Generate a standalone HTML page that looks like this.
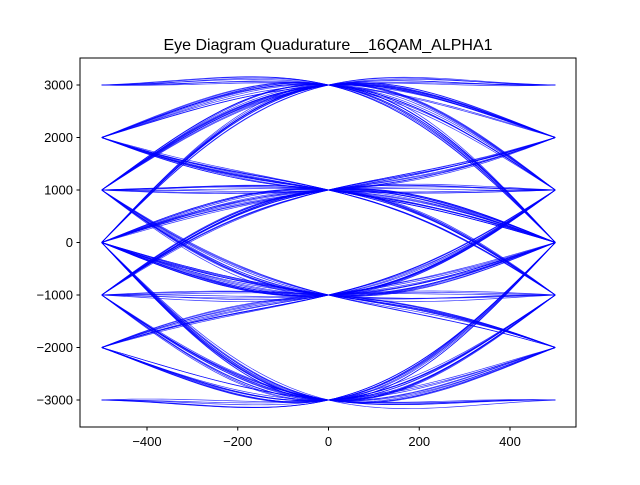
<!DOCTYPE html>
<html><head><meta charset="utf-8"><style>
body{margin:0;background:#fff;font-family:"Liberation Sans","DejaVu Sans",sans-serif;}
svg text{font-family:"Liberation Sans","DejaVu Sans",sans-serif;}
</style></head><body>
<svg id="chart" width="640" height="480" viewBox="0 0 640 480">
<rect width="640" height="480" fill="#fff"/>
<text x="328" y="50" text-anchor="middle" font-size="16">Eye Diagram Quadurature__16QAM_ALPHA1</text>
<g id="traces"></g>
<rect x="80" y="58" width="496" height="369" fill="none" stroke="#000" stroke-width="1"/>
<g id="xticks"></g>
<g id="yticks"></g>
</svg>
<script>
const symbols=[3,3,1,-1,-3,-3,1,3,-1,1,1,-3,3,-1,-1,3,1,-3,-1,3,3,-3,-3,-1,1,-1,3,-3,1,1,3,-1,-3,3,1,-1,1,3,3,1,-3,1,-1,-1,-3,-1,3,-3,-1,1,3,1,1,-1,3,3,-1,-3,-3,3,-1,1,-3,-3,1,-1,3,-1,1,3,-3,-1,-1,1,-3,3,1,1,-1,-3,3,3,-3,1,-1,-3,1,-1,3,1,
-1,3,-3,3,1,-3,-1,-1,3,1,1,3,-3,-1,1,-1,-3,3,3,-1,1,-3,1,3,-1,-3,-3,-1,3,1,-1,1,-3,1,3,3,-3,-1,-1,-3,1,-1,3,-3,1,1,-1,3,1,-3,-3,3,-1,1,1,3,-1,-1,-3,3,-3,1,-1,1,3,-3,3,1,-1,-3,1,1,-3,-1,3,3,1,-1,-1,1,-3,-3,3,-1,3,1,-1,-3,1,3,-3,1,-1,3,-1,-3,1,3];
const symbolScale=1000;
const xTicks=[-400,-200,0,200,400];
const yTicks=[-3000,-2000,-1000,0,1000,2000,3000];
const beta=1;
const X=v=>328.5+v*0.45375;
const Y=v=>242.5-v*0.0525;
function p(t){
  if(Math.abs(t)<1e-9)return 1;
  const den=1-4*beta*beta*t*t;
  const sinc=Math.sin(Math.PI*t)/(Math.PI*t);
  if(Math.abs(den)<1e-9)return Math.PI/4*sinc;
  return sinc*Math.cos(Math.PI*beta*t)/den;
}
const ns="http://www.w3.org/2000/svg";
const g=document.getElementById('traces');
for(let k=6;k<symbols.length-6;k++){
  let pts=[];
  for(let i=0;i<=60;i++){
    const tau=-0.5+i/60;
    let s=0;
    for(let j=k-6;j<=k+6;j++)s+=symbols[j]*p(k+tau-j);
    pts.push(X(tau*1000).toFixed(2)+","+Y(s*symbolScale).toFixed(2));
  }
  const pl=document.createElementNS(ns,'polyline');
  pl.setAttribute('points',pts.join(' '));
  pl.setAttribute('fill','none');pl.setAttribute('stroke','#0000ff');
  pl.setAttribute('stroke-width','0.7');pl.setAttribute('stroke-opacity','0.8');
  
  
  g.appendChild(pl);
}
const xg=document.getElementById('xticks');
xTicks.forEach(v=>{
  const x=X(v);
  const l=document.createElementNS(ns,'line');
  l.setAttribute('x1',x);l.setAttribute('x2',x);l.setAttribute('y1',427);l.setAttribute('y2',430.5);l.setAttribute('stroke','#000');
  
  
  xg.appendChild(l);
  const t=document.createElementNS(ns,'text');
  t.setAttribute('x',x);t.setAttribute('y',446);t.setAttribute('text-anchor','middle');t.setAttribute('font-size','13');
  t.textContent=v<0?'\u2212'+(-v):String(v);
  
  
  xg.appendChild(t);
});
const yg=document.getElementById('yticks');
yTicks.forEach(v=>{
  const y=Y(v);
  const l=document.createElementNS(ns,'line');
  l.setAttribute('x1',76.5);l.setAttribute('x2',80);l.setAttribute('y1',y);l.setAttribute('y2',y);l.setAttribute('stroke','#000');
  
  
  yg.appendChild(l);
  const t=document.createElementNS(ns,'text');
  t.setAttribute('x',73);t.setAttribute('y',y+4.5);t.setAttribute('text-anchor','end');t.setAttribute('font-size','13');
  t.textContent=v<0?'\u2212'+(-v):String(v);
  
  
  yg.appendChild(t);
});
</script>
</body></html>
